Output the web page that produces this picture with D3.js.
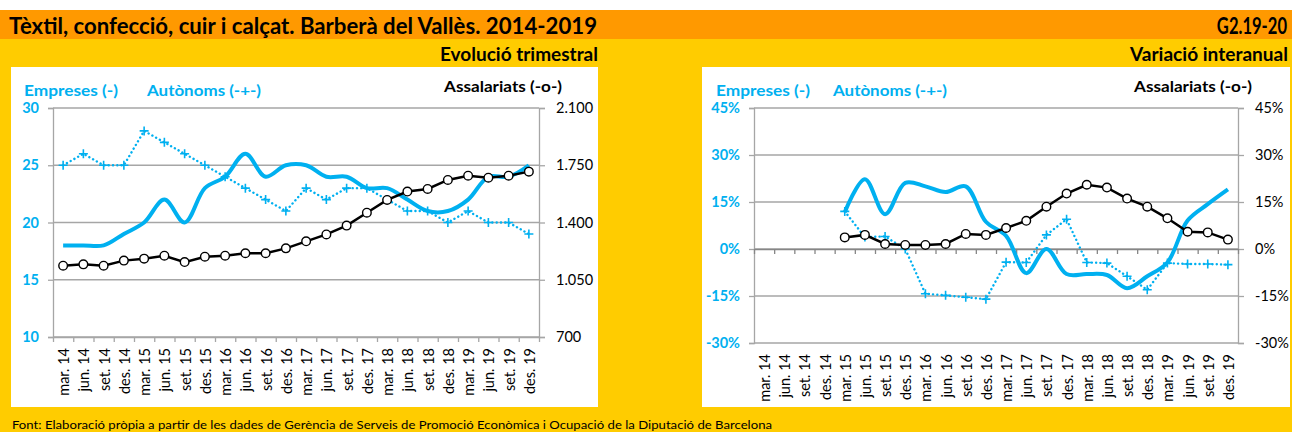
<!DOCTYPE html>
<html>
<head>
<meta charset="utf-8">
<script src="https://cdn.jsdelivr.net/npm/d3@7"></script>
<style>
  body { margin: 0; background: #fff; }
  svg { display: block; font-family: Lato, "Noto Sans", sans-serif; }
</style>
</head>
<body>
<svg id="chart" width="1292" height="432"></svg>
<script>
// categories (quarters)
var quarters = ["mar. 14","jun. 14","set. 14","des. 14","mar. 15","jun. 15","set. 15","des. 15",
  "mar. 16","jun. 16","set. 16","des. 16","mar. 17","jun. 17","set. 17","des. 17",
  "mar. 18","jun. 18","set. 18","des. 18","mar. 19","jun. 19","set. 19","des. 19"];

// quarterly evolution (levels)
var empresesTrim = [18,18,18,19,20,22,20,23,24,26,24,25,25,24,24,23,23,22,21,21,22,24,24,25];
var autonomsTrim = [25,26,25,25,28,27,26,25,24,23,22,21,23,22,23,23,22,21,21,20,21,20,20,19];
var assalariatsTrim = [1136,1144,1136,1167,1179,1197,1158,1191,1197,1212,1212,1242,
  1285,1327,1381,1460,1538,1589,1605,1660,1686,1674,1686,1711];

// year-on-year variation (%)
var empresesVar = [null,null,null,null,11.7,22.3,11.1,21.1,20,18.2,20,8.7,
  4.2,-7.7,0,-8,-8,-8.3,-12.5,-8.7,-4.3,9.1,14.3,19];
var autonomsVar = [null,null,null,null,12,3.8,4,0,-14.3,-14.8,-15.4,-16,
  -4.2,-4.3,4.5,9.5,-4.3,-4.5,-8.7,-13,-4.5,-4.8,-4.8,-5];
var assalariatsVar = [null,null,null,null,3.7,4.5,1.6,1.3,1.3,1.6,4.8,4.5,
  6.7,9,13.5,17.7,20.5,19.6,16.1,13.5,9.8,5.5,5.3,3];

// tick labels
var ticksTrimLeft = [10,15,20,25,30];
var ticksTrimRight = [700,1050,1400,1750,2100];
var ticksVar = [-30,-15,0,15,30,45];

var blue = "#00B0F0";
var grid = "#A6A6A6";
var svg = d3.select("#chart");

var cat = d3.formatLocale({decimal: ",", thousands: ".", grouping: [3], currency: ["", ""]});
var fmtThousands = cat.format(",.0f");
var fmtPct = function(d){ return d + "%"; };

// background bands
svg.append("rect").attr("x",0).attr("y",0).attr("width",1292).attr("height",432).attr("fill","#fff");
svg.append("rect").attr("x",0).attr("y",10).attr("width",1292).attr("height",29).attr("fill","#FF9900");
svg.append("rect").attr("x",0).attr("y",39).attr("width",1292).attr("height",393).attr("fill","#FFCC00");

svg.append("text").attr("x",9).attr("y",34)
  .attr("font-size",23).attr("font-weight","bold").attr("fill","#000")
  .attr("textLength",588).attr("lengthAdjust","spacingAndGlyphs")
  .text("Tèxtil, confecció, cuir i calçat. Barberà del Vallès. 2014-2019");
svg.append("text").attr("transform","translate(1287,34) scale(0.72,1)").attr("text-anchor","end")
  .attr("font-size",23).attr("font-weight","bold").text("G2.19-20");

svg.append("text").attr("x",598).attr("y",61).attr("text-anchor","end")
  .attr("font-size",18.5).attr("font-weight","bold")
  .attr("textLength",158).attr("lengthAdjust","spacingAndGlyphs").text("Evolució trimestral");
svg.append("text").attr("x",1288).attr("y",61).attr("text-anchor","end")
  .attr("font-size",18.5).attr("font-weight","bold")
  .attr("textLength",158).attr("lengthAdjust","spacingAndGlyphs").text("Variació interanual");

svg.append("text").attr("x",12).attr("y",429)
  .attr("font-size",12).attr("fill","#000")
  .attr("textLength",760).attr("lengthAdjust","spacingAndGlyphs")
  .text("Font: Elaboració pròpia a partir de les dades de Gerència de Serveis de Promoció Econòmica i Ocupació de la Diputació de Barcelona");

// white panels
svg.append("rect").attr("x",11).attr("y",67).attr("width",587).attr("height",340).attr("fill","#fff");
svg.append("rect").attr("x",702).attr("y",67).attr("width",588).attr("height",340).attr("fill","#fff");

var drawPanel = function(cfg)
{
  var g = svg.append("g");
  var xLin = d3.scaleLinear().domain([0, quarters.length]).range([cfg.x0, cfg.x1]);
  var xBand = d3.scaleBand().domain(quarters).range([cfg.x0, cfg.x1]);
  var yL = d3.scaleLinear().domain(cfg.leftDomain).range([cfg.yBot, cfg.yTop]);
  var yR = d3.scaleLinear().domain(cfg.rightDomain).range([cfg.yBot, cfg.yTop]);
  var xc = function(i){ return xBand(quarters[i]) + xBand.bandwidth()/2; };

  // gridlines
  g.append("g").selectAll("line").data(cfg.leftTicks).join("line")
    .attr("x1",cfg.x0).attr("x2",cfg.x1)
    .attr("y1",function(d){return yL(d);}).attr("y2",function(d){return yL(d);})
    .attr("stroke",grid).attr("stroke-width",1.3);

  // left axis
  var la = g.append("g").attr("transform","translate("+cfg.x0+",0)")
    .call(d3.axisLeft(yL).tickValues(cfg.leftTicks).tickFormat(cfg.leftFmt).tickSize(5).tickPadding(9));
  la.select(".domain").attr("stroke",grid).attr("stroke-width",1.3);
  la.selectAll(".tick line").attr("stroke",grid).attr("stroke-width",1.3);
  la.selectAll("text").attr("fill",blue).attr("font-weight","bold").attr("font-size",14.5)
    .attr("font-family","Lato");

  // right axis
  var ra = g.append("g").attr("transform","translate("+cfg.x1+",0)")
    .call(d3.axisRight(yR).tickValues(cfg.rightTicks).tickFormat(cfg.rightFmt).tickSize(6).tickPadding(11));
  ra.select(".domain").attr("stroke",grid).attr("stroke-width",1.3);
  ra.selectAll(".tick line").attr("stroke",grid).attr("stroke-width",1.3);
  ra.selectAll("text").attr("fill","#000").attr("font-size",14.5).attr("font-family","Lato");

  // category axis (ticks at boundaries on the zero line)
  var ax = g.append("g").attr("transform","translate(0,"+yL(cfg.axisAt)+")")
    .call(d3.axisBottom(xLin).tickValues(d3.range(quarters.length+1)).tickFormat("").tickSize(5).tickSizeOuter(0));
  ax.select(".domain").attr("stroke",cfg.axisColor).attr("stroke-width",1.3);
  ax.selectAll(".tick line").attr("stroke",cfg.axisColor).attr("stroke-width",1.3);

  // category labels at the bottom
  var lb = g.append("g").attr("transform","translate(0,"+cfg.yBot+")")
    .call(d3.axisBottom(xBand).tickSize(0));
  lb.select(".domain").remove();
  lb.selectAll("text")
    .attr("transform","rotate(-90)")
    .attr("x",-11).attr("y",1).attr("dy","0.35em")
    .style("text-anchor","end")
    .attr("font-size",14.5).attr("font-family","Lato").attr("fill","#000");

  var sal = cfg.assalariats.map(function(v,i){return {i:i,v:v};}).filter(function(d){return d.v!==null;});
  var emp = cfg.empreses.map(function(v,i){return {i:i,v:v};}).filter(function(d){return d.v!==null;});
  var aut = cfg.autonoms.map(function(v,i){return {i:i,v:v};}).filter(function(d){return d.v!==null;});

  // Empreses (smooth solid line)
  g.append("path").datum(emp)
    .attr("d", d3.line().x(function(d){return xc(d.i);}).y(function(d){return yL(d.v);}).curve(d3.curveCatmullRom.alpha(0.5)))
    .attr("fill","none").attr("stroke",blue).attr("stroke-width",4).attr("stroke-linejoin","round");

  // Autònoms (dotted with + markers)
  g.append("path").datum(aut)
    .attr("d", d3.line().x(function(d){return xc(d.i);}).y(function(d){return yL(d.v);}))
    .attr("fill","none").attr("stroke",blue).attr("stroke-width",2.4)
    .attr("stroke-dasharray","0.1,4.2").attr("stroke-linecap","round");
  g.append("g").selectAll("path").data(aut).join("path")
    .attr("transform",function(d){return "translate("+xc(d.i)+","+yL(d.v)+")";})
    .attr("d","M-4.5,0H4.5M0,-4.5V4.5")
    .attr("stroke",blue).attr("stroke-width",1.6);

  // Assalariats (right axis, circles)
  g.append("path").datum(sal)
    .attr("d", d3.line().x(function(d){return xc(d.i);}).y(function(d){return yR(d.v);}))
    .attr("fill","none").attr("stroke","#000").attr("stroke-width",2.5);
  g.append("g").selectAll("circle").data(sal).join("circle")
    .attr("cx",function(d){return xc(d.i);}).attr("cy",function(d){return yR(d.v);})
    .attr("r",4.3).attr("fill","#fff").attr("stroke","#000").attr("stroke-width",1.4);

  // legend texts
  g.append("text").attr("x",cfg.legX[0]).attr("y",96).attr("font-size",16).attr("font-weight","bold")
    .attr("fill",blue).attr("textLength",94).attr("lengthAdjust","spacingAndGlyphs").text("Empreses (-)");
  g.append("text").attr("x",cfg.legX[1]).attr("y",96).attr("font-size",16).attr("font-weight","bold")
    .attr("fill",blue).attr("textLength",114).attr("lengthAdjust","spacingAndGlyphs").text("Autònoms (-+-)");
  g.append("text").attr("x",cfg.legX[2]-118).attr("y",92).attr("font-size",16).attr("font-weight","bold")
    .attr("fill","#000").attr("textLength",118).attr("lengthAdjust","spacingAndGlyphs").text("Assalariats (-o-)");
};

drawPanel({
  x0: 53, x1: 539, yTop: 108, yBot: 337,
  leftDomain: [10,30], rightDomain: [700,2100],
  leftTicks: ticksTrimLeft, rightTicks: ticksTrimRight,
  leftFmt: function(d){return d;}, rightFmt: fmtThousands,
  axisAt: 10, axisColor: grid,
  empreses: empresesTrim, autonoms: autonomsTrim, assalariats: assalariatsTrim,
  legX: [24,147,562]
});

drawPanel({
  x0: 754, x1: 1238, yTop: 108, yBot: 343,
  leftDomain: [-30,45], rightDomain: [-30,45],
  leftTicks: ticksVar, rightTicks: ticksVar,
  leftFmt: fmtPct, rightFmt: fmtPct,
  axisAt: 0, axisColor: "#868686",
  empreses: empresesVar, autonoms: autonomsVar, assalariats: assalariatsVar,
  legX: [716,833,1252]
});
</script>
</body>
</html>
